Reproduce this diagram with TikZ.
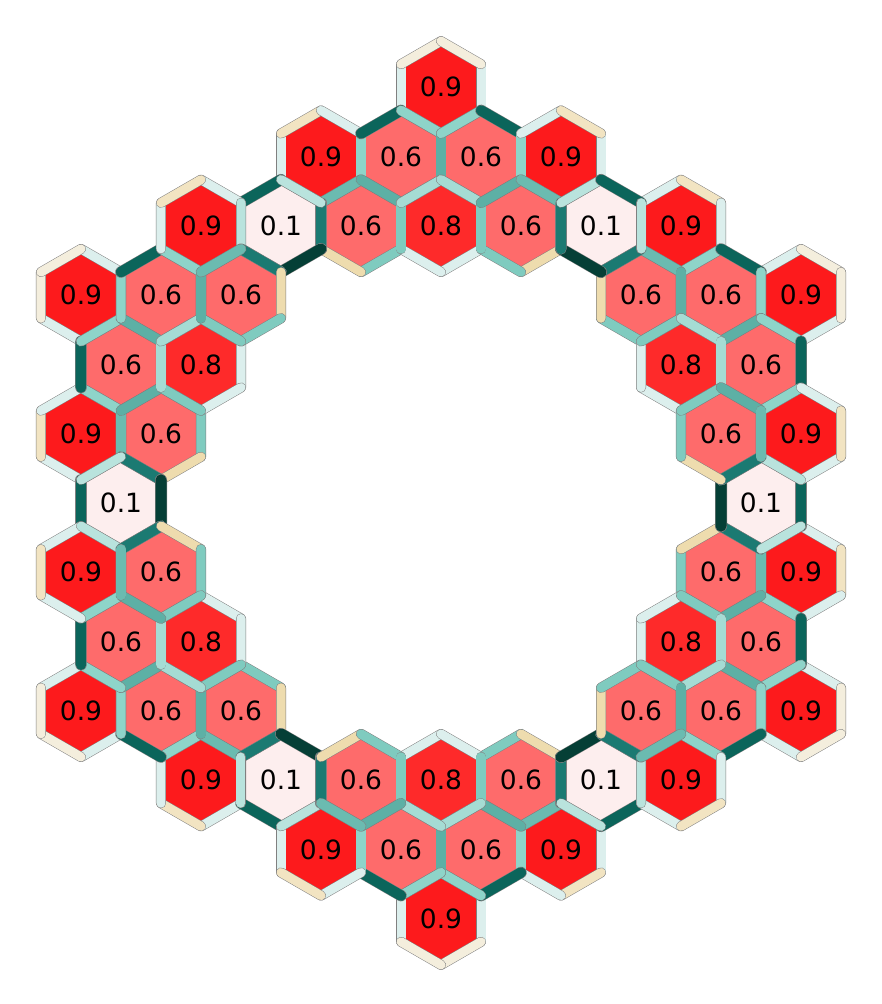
\documentclass[tikz,border=0pt]{standalone}
\usepackage{fontspec}
\setmainfont{DejaVu Sans}
\definecolor{rnine}{HTML}{FD1A1C}
\definecolor{reight}{HTML}{FE2A2A}
\definecolor{rsix}{HTML}{FE6B6B}
\definecolor{rone}{HTML}{FDEEEE}
\definecolor{cA}{HTML}{EEDCAE}
\definecolor{cB}{HTML}{F2E4C2}
\definecolor{cC}{HTML}{F4EEDD}
\definecolor{cD}{HTML}{DCEFED}
\definecolor{cE}{HTML}{B9E3DD}
\definecolor{cF}{HTML}{A5DCD4}
\definecolor{cG}{HTML}{8ED4C9}
\definecolor{cH}{HTML}{7FCBBF}
\definecolor{cI}{HTML}{6BBBB0}
\definecolor{cJ}{HTML}{5DB0A5}
\definecolor{cK}{HTML}{1B7A72}
\definecolor{cL}{HTML}{0B655B}
\definecolor{cM}{HTML}{053F36}
\tikzset{
  band/.style={line cap=round, draw=black!50, line width=0.5pt},
  eA/.style={band, double=cA, double distance=9pt},
  eB/.style={band, double=cB, double distance=9pt},
  eC/.style={band, double=cC, double distance=9pt},
  eD/.style={band, double=cD, double distance=9pt},
  eE/.style={band, double=cE, double distance=9pt},
  eF/.style={band, double=cF, double distance=9.3pt},
  eG/.style={band, double=cG, double distance=9.3pt},
  eH/.style={band, double=cH, double distance=9.3pt},
  eI/.style={band, double=cI, double distance=9.7pt},
  eJ/.style={band, double=cJ, double distance=9.7pt},
  eK/.style={band, double=cK, double distance=10.2pt},
  eL/.style={band, double=cL, double distance=10.5pt},
  eM/.style={band, double=cM, double distance=11pt},
  lbl/.style={font=\fontsize{26.5}{31}\selectfont, text=black, inner sep=0pt}
}
\newcommand{\Rh}{46.19}
\newcommand{\HexFill}[3]{\fill[#3,shift={(#1,#2)}] (30:\Rh)--(90:\Rh)--(150:\Rh)--(210:\Rh)--(270:\Rh)--(330:\Rh)--cycle;}
\newcommand{\HexEdge}[4]{\draw[#4,shift={(#1,#2)}] (#3-30:\Rh)--(#3+30:\Rh);}
\newcommand{\HexSix}[8]{%
  \HexEdge{#1}{#2}{0}{#3}\HexEdge{#1}{#2}{60}{#4}\HexEdge{#1}{#2}{120}{#5}%
  \HexEdge{#1}{#2}{180}{#6}\HexEdge{#1}{#2}{240}{#7}\HexEdge{#1}{#2}{300}{#8}}
\begin{document}
\begin{tikzpicture}[x=1pt,y=-1pt]
\useasboundingbox (0,0) rectangle (882,1004);
\begin{scope}[shift={(441,503)}]
\foreach \k in {0,...,5}{
  \begin{scope}[rotate=60*\k]
    \HexFill{0}{-415.69}{rnine}
    \HexFill{-120}{-346.41}{rnine}
    \HexFill{-40}{-346.41}{rsix}
    \HexFill{40}{-346.41}{rsix}
    \HexFill{120}{-346.41}{rnine}
    \HexFill{-160}{-277.13}{rone}
    \HexFill{-80}{-277.13}{rsix}
    \HexFill{0}{-277.13}{reight}
    \HexFill{80}{-277.13}{rsix}
    \node[lbl] (T\k) at (0,-415.69) {0.9};
    \node[lbl] (Da\k) at (-120,-346.41) {0.9};
    \node[lbl] (Ba\k) at (-40,-346.41) {0.6};
    \node[lbl] (Bb\k) at (40,-346.41) {0.6};
    \node[lbl] (Db\k) at (120,-346.41) {0.9};
    \node[lbl] (C\k) at (-160,-277.13) {0.1};
    \node[lbl] (Aa\k) at (-80,-277.13) {0.6};
    \node[lbl] (Ab\k) at (0,-277.13) {0.8};
    \node[lbl] (Ac\k) at (80,-277.13) {0.6};
  \end{scope}
}
\foreach \k in {0,...,5}{
  \begin{scope}[rotate=60*\k]
    \HexSix{0}{-415.69}{eD}{eG}{eG}{eD}{eC}{eC}
    \HexSix{-120}{-346.41}{eG}{eI}{eE}{eD}{eB}{eD}
    \HexSix{-40}{-346.41}{eJ}{eF}{eJ}{eG}{eL}{eG}
    \HexSix{40}{-346.41}{eG}{eJ}{eF}{eJ}{eG}{eL}
    \HexSix{120}{-346.41}{eD}{eE}{eI}{eG}{eD}{eB}
    \HexSix{-80}{-277.13}{eH}{eH}{eA}{eK}{eI}{eJ}
    \HexSix{0}{-277.13}{eH}{eD}{eD}{eH}{eF}{eF}
    \HexSix{80}{-277.13}{eK}{eA}{eH}{eH}{eJ}{eI}
    \HexSix{-160}{-277.13}{eK}{eM}{eK}{eE}{eL}{eE}
  \end{scope}
}
\end{scope}
\end{tikzpicture}
\end{document}
